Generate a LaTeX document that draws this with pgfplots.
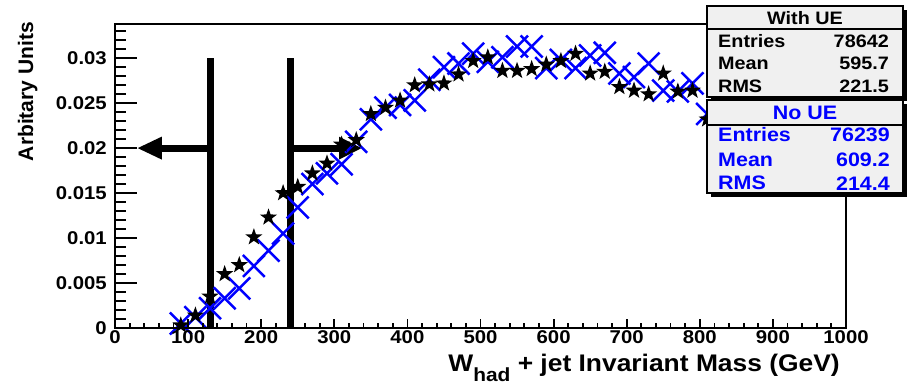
\documentclass[border=0pt]{standalone}
\usepackage{pgfplots}
\pgfplotsset{compat=1.18}
\usepackage{fontspec}
\setmainfont{Liberation Sans}
\usepackage{graphicx}
\usetikzlibrary{arrows.meta}
\newcommand\hs[1]{\scalebox{1.1}[1]{#1}}
\definecolor{rootblue}{RGB}{0,0,255}
\definecolor{statfill}{RGB}{240,240,240}
\pgfdeclareplotmark{fstar}{%
 \pgfpathmoveto{\pgfqpointpolar{90}{\pgfplotmarksize}}%
 \pgfpathlineto{\pgfqpointpolar{126}{0.4\pgfplotmarksize}}%
 \pgfpathlineto{\pgfqpointpolar{162}{\pgfplotmarksize}}%
 \pgfpathlineto{\pgfqpointpolar{198}{0.4\pgfplotmarksize}}%
 \pgfpathlineto{\pgfqpointpolar{234}{\pgfplotmarksize}}%
 \pgfpathlineto{\pgfqpointpolar{270}{0.4\pgfplotmarksize}}%
 \pgfpathlineto{\pgfqpointpolar{306}{\pgfplotmarksize}}%
 \pgfpathlineto{\pgfqpointpolar{342}{0.4\pgfplotmarksize}}%
 \pgfpathlineto{\pgfqpointpolar{18}{\pgfplotmarksize}}%
 \pgfpathlineto{\pgfqpointpolar{54}{0.4\pgfplotmarksize}}%
 \pgfpathclose
 \pgfusepathqfill
}
\pgfplotsset{rootframe/.style={
  at={(115pt,57pt)}, anchor=south west,
  scale only axis, width=731pt, height=304pt,
  xmin=0, xmax=1000, ymin=0, ymax=0.0338,
  clip=false,
  tick pos=left, tick align=inside,
  axis line style={line width=2.3pt},
  every tick/.style={black, line width=1.8pt},
}}
\begin{document}
\begin{tikzpicture}
\useasboundingbox (0pt,0pt) rectangle (911pt,385pt);
% axis A: y ticks (long), data
\begin{axis}[rootframe,
  major tick length=22pt, minor tick length=11pt,
  xtick=\empty,
  ytick={0,0.005,0.01,0.015,0.02,0.025,0.03},
  yticklabels={\hs{0},\hs{0.005},\hs{0.01},\hs{0.015},\hs{0.02},\hs{0.025},\hs{0.03}},
  minor ytick={0.001,0.002,0.003,0.004,0.006,0.007,0.008,0.009,0.011,0.012,0.013,0.014,0.016,0.017,0.018,0.019,0.021,0.022,0.023,0.024,0.026,0.027,0.028,0.029,0.031,0.032,0.033},
  scaled y ticks=false,
  yticklabel style={font=\bfseries\fontsize{18.5}{18.5}\selectfont, inner sep=0pt, anchor=east, xshift=-8pt},
  ylabel={Arbitary Units},
  every axis y label/.style={at={(axis description cs:-0.112,1.0066)}, rotate=90, anchor=base east, inner sep=0pt, font=\bfseries\fontsize{21}{21}\selectfont},
]
% No UE (blue crosses)
\addplot[only marks, mark=x, mark size=15.5pt, draw=rootblue, mark options={line width=2.5pt, draw=rootblue}] coordinates {
(90,0.0005) (110,0.0012) (130,0.0022) (150,0.0033) (170,0.0044) (190,0.0069) (210,0.0086) (230,0.0105) (250,0.0134) (270,0.0160) (290,0.0172) (310,0.0182) (330,0.0207) (350,0.0232) (370,0.0245) (390,0.0248) (410,0.0253) (430,0.0276) (450,0.0290) (470,0.0294) (490,0.0305) (510,0.0296) (530,0.0301) (550,0.0313) (570,0.0313) (590,0.0289) (610,0.0298) (630,0.0289) (650,0.0303) (670,0.0306) (690,0.0283) (710,0.0279) (730,0.0294) (750,0.0264) (770,0.0263) (790,0.0272) (810,0.0238)
};
% With UE (black stars)
\addplot[only marks, mark=fstar, mark size=9pt, draw=black, fill=black] coordinates {
(90,0.0003) (110,0.0014) (130,0.0035) (150,0.0060) (170,0.0070) (190,0.0101) (210,0.0123) (230,0.0150) (250,0.0157) (270,0.0172) (290,0.0183) (310,0.0204) (330,0.0209) (350,0.0238) (370,0.0245) (390,0.0253) (410,0.0270) (430,0.0271) (450,0.0272) (470,0.0282) (490,0.0297) (510,0.0301) (530,0.0286) (550,0.0286) (570,0.0288) (590,0.0293) (610,0.0297) (630,0.0305) (650,0.0283) (670,0.0285) (690,0.0268) (710,0.0264) (730,0.0260) (750,0.0283) (770,0.0263) (790,0.0264) (810,0.0232)
};
% cut lines and arrows
\draw[line width=7pt, black] (axis cs:130,0) -- (axis cs:130,0.03);
\draw[line width=7pt, black] (axis cs:240,0) -- (axis cs:240,0.03);
\draw[line width=7pt, black, -{Triangle[length=25pt,width=21pt]}] (axis cs:130,0.02) -- (axis cs:30,0.02);
\draw[line width=7pt, black, -{Triangle[length=23pt,width=21pt]}] (axis cs:240,0.02) -- (axis cs:338,0.02);
\end{axis}
% axis B: x ticks (short) and x title
\begin{axis}[rootframe,
  major tick length=9pt, minor tick length=4.5pt,
  ytick=\empty,
  xtick={0,100,...,1000},
  xticklabels={\hs{0},\hs{100},\hs{200},\hs{300},\hs{400},\hs{500},\hs{600},\hs{700},\hs{800},\hs{900},\hs{1000}},
  minor xtick={20,40,60,80,120,140,160,180,220,240,260,280,320,340,360,380,420,440,460,480,520,540,560,580,620,640,660,680,720,740,760,780,820,840,860,880,920,940,960,980},
  xticklabel style={font=\bfseries\fontsize{18.5}{18.5}\selectfont, inner sep=0pt, anchor=north, yshift=-2pt},
  xlabel={\hs{W\raisebox{-9.5pt}{\fontsize{19}{19}\selectfont had} + jet Invariant Mass (GeV)}},
  every axis x label/.style={at={(axis description cs:1,0)}, anchor=base east, xshift=-6pt, yshift=-44pt, inner sep=0pt, font=\bfseries\fontsize{24}{24}\selectfont},
]
\end{axis}
% stat box 1
\fill[black] (711pt,284pt) rectangle (907pt,375pt);
\filldraw[fill=statfill, draw=black, line width=1.5pt] (707pt,288pt) rectangle (903pt,379pt);
\draw[line width=1.5pt] (707pt,356pt) -- (903pt,356pt);
\begin{scope}[every node/.style={inner sep=0pt, font=\bfseries\fontsize{18}{18}\selectfont}]
\node[anchor=base] at (805pt,360pt) {\hs{With UE}};
\node[anchor=base west] at (718pt,337pt) {\hs{Entries}};
\node[anchor=base east] at (889pt,337pt) {\hs{78642}};
\node[anchor=base west] at (718pt,315pt) {\hs{Mean}};
\node[anchor=base east] at (889pt,315pt) {\hs{595.7}};
\node[anchor=base west] at (718pt,292.5pt) {\hs{RMS}};
\node[anchor=base east] at (889pt,292.5pt) {\hs{221.5}};
\end{scope}
% stat box 2
\fill[black] (711pt,188pt) rectangle (907pt,281pt);
\filldraw[fill=statfill, draw=black, line width=1.5pt] (707pt,192pt) rectangle (903pt,285pt);
\draw[line width=1.5pt] (707pt,260pt) -- (903pt,260pt);
\begin{scope}[every node/.style={inner sep=0pt, text=rootblue, font=\bfseries\fontsize{19.5}{19.5}\selectfont}]
\node[anchor=base] at (805pt,265pt) {\hs{No UE}};
\node[anchor=base west] at (718pt,243pt) {\hs{Entries}};
\node[anchor=base east] at (890pt,243pt) {\hs{76239}};
\node[anchor=base west] at (718pt,218pt) {\hs{Mean}};
\node[anchor=base east] at (890pt,218pt) {\hs{609.2}};
\node[anchor=base west] at (718pt,195pt) {\hs{RMS}};
\node[anchor=base east] at (890pt,194pt) {\hs{214.4}};
\end{scope}
\end{tikzpicture}
\end{document}
